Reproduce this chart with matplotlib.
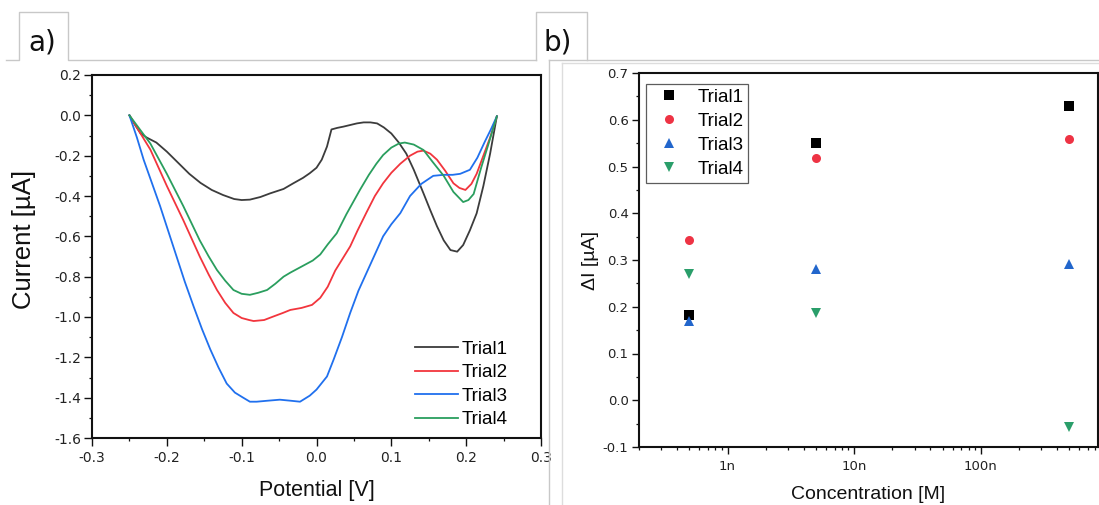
import matplotlib
matplotlib.use("Agg")
import matplotlib.pyplot as plt
from matplotlib.ticker import (MultipleLocator, FixedLocator, FixedFormatter, LogLocator,
                               NullFormatter, FuncFormatter)
from matplotlib.lines import Line2D

plt.rcParams['font.family'] = ['Liberation Sans', 'DejaVu Sans']

# ---------------- data: panel a (voltammograms) ----------------
pot1 = [-0.250, -0.242, -0.235, -0.227, -0.214, -0.200, -0.185, -0.170, -0.155, -0.140, -0.125, -0.110,
        -0.100, -0.089, -0.075, -0.062, -0.044, -0.031, -0.018, -0.009, 0.000, 0.007, 0.014, 0.020,
        0.028, 0.036, 0.045, 0.054, 0.063, 0.072, 0.081, 0.090, 0.100, 0.110, 0.120, 0.130, 0.143,
        0.152, 0.161, 0.170, 0.179, 0.188, 0.196, 0.205, 0.214, 0.223, 0.232, 0.241]
cur1 = [0.000, -0.050, -0.090, -0.110, -0.135, -0.180, -0.235, -0.290, -0.335, -0.370, -0.395, -0.415,
        -0.420, -0.418, -0.405, -0.387, -0.365, -0.337, -0.310, -0.287, -0.260, -0.220, -0.155, -0.070,
        -0.062, -0.056, -0.048, -0.040, -0.035, -0.035, -0.040, -0.060, -0.090, -0.135, -0.190, -0.270,
        -0.387, -0.470, -0.550, -0.620, -0.668, -0.676, -0.643, -0.570, -0.486, -0.350, -0.190, -0.005]

pot2 = [-0.250, -0.236, -0.222, -0.211, -0.200, -0.189, -0.178, -0.167, -0.156, -0.144, -0.133, -0.122,
        -0.111, -0.100, -0.090, -0.084, -0.070, -0.058, -0.045, -0.035, -0.020, -0.006, 0.005, 0.015,
        0.025, 0.035, 0.045, 0.055, 0.067, 0.078, 0.089, 0.100, 0.112, 0.125, 0.135, 0.143, 0.152,
        0.161, 0.172, 0.183, 0.191, 0.199, 0.207, 0.214, 0.222, 0.232, 0.241]
cur2 = [0.000, -0.085, -0.170, -0.260, -0.350, -0.435, -0.520, -0.610, -0.700, -0.790, -0.866, -0.930,
        -0.980, -1.005, -1.015, -1.020, -1.015, -0.998, -0.980, -0.965, -0.955, -0.940, -0.905, -0.850,
        -0.770, -0.710, -0.650, -0.570, -0.480, -0.400, -0.337, -0.285, -0.240, -0.200, -0.180, -0.175,
        -0.190, -0.220, -0.275, -0.337, -0.360, -0.370, -0.340, -0.290, -0.210, -0.110, -0.005]

pot3 = [-0.250, -0.240, -0.231, -0.220, -0.209, -0.198, -0.187, -0.176, -0.164, -0.153, -0.142, -0.131,
        -0.120, -0.109, -0.098, -0.089, -0.080, -0.065, -0.049, -0.035, -0.022, -0.009, 0.000, 0.014,
        0.023, 0.034, 0.045, 0.056, 0.067, 0.078, 0.089, 0.100, 0.112, 0.125, 0.140, 0.156, 0.170,
        0.182, 0.192, 0.205, 0.215, 0.225, 0.233, 0.241]
cur3 = [0.000, -0.110, -0.220, -0.335, -0.450, -0.575, -0.700, -0.825, -0.950, -1.060, -1.160, -1.250,
        -1.330, -1.375, -1.400, -1.420, -1.420, -1.415, -1.410, -1.415, -1.420, -1.390, -1.360, -1.295,
        -1.210, -1.100, -0.980, -0.870, -0.780, -0.690, -0.600, -0.540, -0.485, -0.400, -0.340, -0.300,
        -0.295, -0.295, -0.290, -0.270, -0.210, -0.130, -0.070, -0.005]

pot4 = [-0.250, -0.236, -0.222, -0.211, -0.200, -0.189, -0.178, -0.167, -0.156, -0.144, -0.133, -0.122,
        -0.111, -0.100, -0.089, -0.078, -0.066, -0.055, -0.044, -0.035, -0.020, -0.005, 0.005, 0.015,
        0.027, 0.040, 0.058, 0.070, 0.080, 0.089, 0.100, 0.110, 0.118, 0.130, 0.143, 0.155, 0.170,
        0.183, 0.196, 0.203, 0.210, 0.220, 0.230, 0.241]
cur4 = [0.000, -0.070, -0.140, -0.215, -0.290, -0.370, -0.450, -0.535, -0.620, -0.700, -0.767, -0.820,
        -0.866, -0.885, -0.890, -0.880, -0.866, -0.835, -0.800, -0.780, -0.750, -0.720, -0.690, -0.640,
        -0.585, -0.490, -0.370, -0.295, -0.240, -0.197, -0.160, -0.140, -0.135, -0.145, -0.172, -0.230,
        -0.300, -0.380, -0.430, -0.420, -0.390, -0.260, -0.140, -0.005]

# ---------------- data: panel b ----------------
conc = [5e-10, 5e-9, 5e-7]
dI1 = [0.182, 0.550, 0.630]
dI2 = [0.342, 0.518, 0.558]
dI3 = [0.170, 0.280, 0.292]
dI4 = [0.270, 0.186, -0.058]

labels = ['Trial1', 'Trial2', 'Trial3', 'Trial4']
xticklabels_b = ['1n', '10n', '100n']
line_colors = ['#3c3c3c', '#f2353d', '#2070ee', '#2a9e5e']
mk_colors = ['#000000', '#ee3344', '#2266cc', '#2a9e6a']
markers = ['s', 'o', '^', 'v']

W, H = 1099, 505
fig = plt.figure(figsize=(W / 100, H / 100), dpi=100)
fig.patch.set_facecolor('white')

TICKFONT = 'DejaVu Sans'


def px_axes(l, t, r, b):
    return fig.add_axes([l / W, (H - b) / H, (r - l) / W, (b - t) / H])


def style(ax, fs, maj=5.5, mnr=2.4):
    for s in ax.spines.values():
        s.set_linewidth(1.5)
        s.set_color('#111111')
    ax.tick_params(which='major', direction='out', length=maj, width=1.0, labelsize=fs,
                   colors='#111111', pad=2.5, top=False, right=False)
    ax.tick_params(which='minor', direction='out', length=mnr, width=0.9,
                   top=False, right=False, colors='#111111')
    for t in ax.get_xticklabels() + ax.get_yticklabels():
        t.set_fontfamily(TICKFONT)
        t.set_color('#222222')


fmt1 = FuncFormatter(lambda v, p: f'{v:.1f}'.replace('-0.0', '0.0'))

# ---------- frames / tabs ----------
gray = '#c8c8c8'


def fline(xs, ys, lw=1.0, c=gray):
    fig.add_artist(Line2D([x / W for x in xs], [(H - y) / H for y in ys],
                          color=c, lw=lw, transform=fig.transFigure))


fline([6, 19, 19, 68, 68, 536], [60, 60, 12, 12, 60, 60])
fline([536, 536, 587, 587], [60, 12, 12, 60])
fline([549, 549], [60, 505])
fline([549, 1099], [60, 60])
fline([562, 562], [63, 505], c='#dddddd')
fline([562, 1099], [63, 63], c='#dddddd')
fig.text(42 / W, (H - 43) / H, 'a)', fontsize=20, ha='center', va='center', color='#111111',
         family=TICKFONT)
fig.text(558 / W, (H - 43) / H, 'b)', fontsize=20, ha='center', va='center', color='#111111',
         family=TICKFONT)

# ---------- panel a ----------
axa = px_axes(92, 75, 541, 438)
for p, c, col, lab in zip([pot1, pot2, pot3, pot4], [cur1, cur2, cur3, cur4], line_colors, labels):
    axa.plot(p, c, color=col, lw=1.3, label=lab)
axa.set_xlim(-0.3, 0.3)
axa.set_ylim(-1.6, 0.2)
axa.xaxis.set_major_locator(MultipleLocator(0.1))
axa.xaxis.set_minor_locator(MultipleLocator(0.05))
axa.yaxis.set_major_locator(MultipleLocator(0.2))
axa.yaxis.set_minor_locator(MultipleLocator(0.1))
axa.xaxis.set_major_formatter(fmt1)
axa.yaxis.set_major_formatter(fmt1)
style(axa, 10)
axa.tick_params(axis='x', which='major', pad=4)
axa.set_xlabel('Potential [V]', fontsize=15.5, labelpad=11, color='#111111')
axa.set_ylabel('Current [µA]', fontsize=18.5, color='#111111')
axa.yaxis.set_label_coords((36 - 92) / 449, (438 - 239) / 363)
axa.legend(loc='upper left', bbox_to_anchor=(0.719, 0.268), frameon=False, fontsize=13.5,
           handlelength=2.3, handletextpad=0.2, labelspacing=0.34, borderpad=0, borderaxespad=0)

# ---------- panel b ----------
axb = px_axes(639, 73, 1098, 447)
for y, col, m, lab in zip([dI1, dI2, dI3, dI4], mk_colors, markers, labels):
    axb.plot(conc, y, ls='none', marker=m, color=col, markersize=6.5, label=lab, markeredgewidth=0)
axb.set_xscale('log')
axb.set_xlim(2.0e-10, 8.4e-7)
axb.set_ylim(-0.1, 0.7)
axb.xaxis.set_major_locator(FixedLocator([1e-9, 1e-8, 1e-7]))
axb.xaxis.set_major_formatter(FixedFormatter(xticklabels_b))
axb.xaxis.set_minor_locator(LogLocator(base=10, subs=range(2, 10), numticks=20))
axb.xaxis.set_minor_formatter(NullFormatter())
axb.yaxis.set_major_locator(MultipleLocator(0.1))
axb.yaxis.set_minor_locator(MultipleLocator(0.05))
axb.yaxis.set_major_formatter(fmt1)
style(axb, 9.5, maj=5, mnr=2.4)
axb.tick_params(axis='x', which='major', pad=4)
axb.set_xlabel('Concentration [M]', fontsize=14, labelpad=10, color='#111111')
axb.set_ylabel('ΔI [µA]', fontsize=14, labelpad=3, color='#111111')
leg = axb.legend(loc='upper left', bbox_to_anchor=(0.015, 0.971), frameon=True, fancybox=False,
                 fontsize=13.5, handlelength=2.0, handletextpad=0.5, labelspacing=0.37,
                 borderpad=0.25, borderaxespad=0)
leg.get_frame().set_edgecolor('#333333')
leg.get_frame().set_linewidth(0.9)

fig.savefig('out.png', dpi=100, facecolor='white')
